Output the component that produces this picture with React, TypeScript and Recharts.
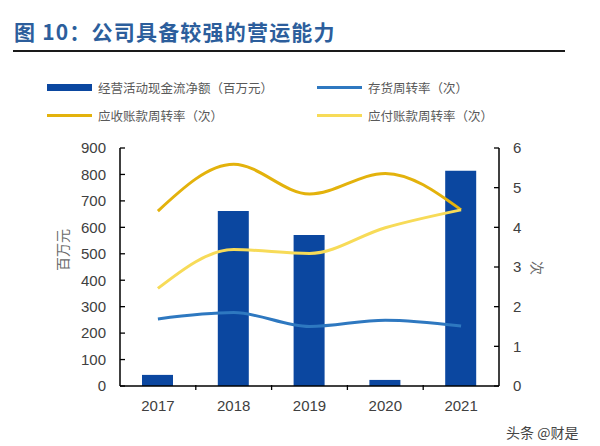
import React from 'react';
import { ComposedChart, Bar, Line, XAxis, YAxis } from 'recharts';

const years = ['2017', '2018', '2019', '2020', '2021'];
const cashFlow = [42, 662, 571, 23, 814];
const inventoryTurnover = [1.69, 1.85, 1.5, 1.66, 1.51];
const receivableTurnover = [4.41, 5.59, 4.84, 5.36, 4.44];
const payableTurnover = [2.46, 3.44, 3.34, 3.99, 4.44];
const leftTicks = [0, 100, 200, 300, 400, 500, 600, 700, 800, 900];
const rightTicks = [0, 1, 2, 3, 4, 5, 6];

const data = years.map((year, i) => ({
  year,
  cash: cashFlow[i],
  inventory: inventoryTurnover[i],
  receivable: receivableTurnover[i],
  payable: payableTurnover[i],
}));

const CJK = '"Noto Sans CJK SC", sans-serif';
const LATIN = '"Liberation Sans", Arial, sans-serif';

const BAR = '#0B47A0';
const BLUE = '#2E78C0';
const GOLD = '#E3B20C';
const YELLOW = '#F7DB58';

const legendItems = [
  { label: '经营活动现金流净额（百万元）', color: BAR, thick: 7, x: 47, y: 87 },
  { label: '存货周转率（次）', color: BLUE, thick: 3, x: 317, y: 87 },
  { label: '应收账款周转率（次）', color: GOLD, thick: 3, x: 47, y: 115 },
  { label: '应付账款周转率（次）', color: YELLOW, thick: 3, x: 317, y: 115 },
];

const PLOT_LEFT = 120;
const PLOT_RIGHT = 499;

const XTick = (props: any) => {
  const { x, y, payload, index } = props;
  const half = (PLOT_RIGHT - PLOT_LEFT) / years.length / 2;
  return (
    <g>
      {index < years.length - 1 && (
        <line x1={x + half} x2={x + half} y1={y - 4} y2={y - 9} stroke="#000" strokeWidth={1.3} />
      )}
      <text x={x} y={y + 17} textAnchor="middle" fill="#404040" fontSize={15} fontFamily={LATIN}>
        {payload.value}
      </text>
    </g>
  );
};

const App: React.FC = () => {
  return (
    <div
      style={{
        position: 'absolute',
        left: 0,
        top: 0,
        width: 600,
        height: 446,
        overflow: 'hidden',
        background: '#fff',
        fontFamily: CJK,
      }}
    >
      <div
        style={{
          position: 'absolute',
          left: 14,
          top: 18,
          fontSize: 21,
          fontWeight: 'bold',
          color: '#2C5E9C',
          fontFamily: CJK,
          lineHeight: '26px',
          letterSpacing: 1.2,
          whiteSpace: 'nowrap',
        }}
      >
        图 10：公司具备较强的营运能力
      </div>
      <div style={{ position: 'absolute', left: 13, top: 50, width: 552, height: 2, background: '#1a1a1a' }} />

      {legendItems.map((item) => (
        <div
          key={item.label}
          style={{ position: 'absolute', left: item.x, top: item.y - 9, height: 18, display: 'flex', alignItems: 'center' }}
        >
          <div style={{ width: 45, height: item.thick, background: item.color, marginRight: 6 }} />
          <span style={{ fontSize: 12.5, color: '#595959', whiteSpace: 'nowrap', fontFamily: CJK }}>{item.label}</span>
        </div>
      ))}

      <div style={{ position: 'absolute', left: 0, top: 0 }}>
        <ComposedChart
          width={600}
          height={446}
          data={data}
          margin={{ top: 148, right: 0, bottom: 30, left: 0 }}
        >
          <XAxis
            dataKey="year"
            axisLine={{ stroke: '#000', strokeWidth: 1.5 }}
            tickLine={false}
            tick={<XTick />}
            height={30}
            interval={0}
          />
          <YAxis
            yAxisId="left"
            orientation="left"
            domain={[0, 900]}
            ticks={leftTicks}
            width={PLOT_LEFT}
            axisLine={{ stroke: '#000', strokeWidth: 1.5 }}
            tickLine={{ stroke: '#000', strokeWidth: 1.3 }}
            tickSize={-5}
            tickMargin={19}
            tick={{ fill: '#404040', fontSize: 15, fontFamily: LATIN }}
          />
          <YAxis
            yAxisId="right"
            orientation="right"
            domain={[0, 6]}
            ticks={rightTicks}
            width={600 - PLOT_RIGHT}
            axisLine={{ stroke: '#000', strokeWidth: 1.5 }}
            tickLine={{ stroke: '#000', strokeWidth: 1.3 }}
            tickSize={-5}
            tickMargin={19}
            tick={{ fill: '#404040', fontSize: 15, fontFamily: LATIN }}
          />
          <Bar yAxisId="left" dataKey="cash" fill={BAR} barSize={31} isAnimationActive={false} />
          <Line
            yAxisId="right"
            type="monotone"
            dataKey="inventory"
            stroke={BLUE}
            strokeWidth={3}
            dot={false}
            isAnimationActive={false}
          />
          <Line
            yAxisId="right"
            type="monotone"
            dataKey="receivable"
            stroke={GOLD}
            strokeWidth={3}
            dot={false}
            isAnimationActive={false}
          />
          <Line
            yAxisId="right"
            type="monotone"
            dataKey="payable"
            stroke={YELLOW}
            strokeWidth={3}
            dot={false}
            isAnimationActive={false}
          />
        </ComposedChart>
      </div>

      <div
        style={{
          position: 'absolute',
          left: 62,
          top: 250,
          transform: 'translate(-50%, -50%) rotate(-90deg)',
          fontSize: 14,
          lineHeight: '16px',
          color: '#6a6a6a',
          fontFamily: CJK,
          whiteSpace: 'nowrap',
        }}
      >
        百万元
      </div>
      <div
        style={{
          position: 'absolute',
          left: 538,
          top: 268,
          transform: 'translate(-50%, -50%) rotate(90deg)',
          fontSize: 14,
          lineHeight: '16px',
          color: '#6a6a6a',
          fontFamily: CJK,
          whiteSpace: 'nowrap',
        }}
      >
        次
      </div>

      <div
        style={{
          position: 'absolute',
          left: 506,
          top: 422,
          fontSize: 14,
          lineHeight: '20px',
          color: '#444',
          fontFamily: CJK,
          whiteSpace: 'nowrap',
        }}
      >
        头条 @财是
      </div>
    </div>
  );
};

export default App;
